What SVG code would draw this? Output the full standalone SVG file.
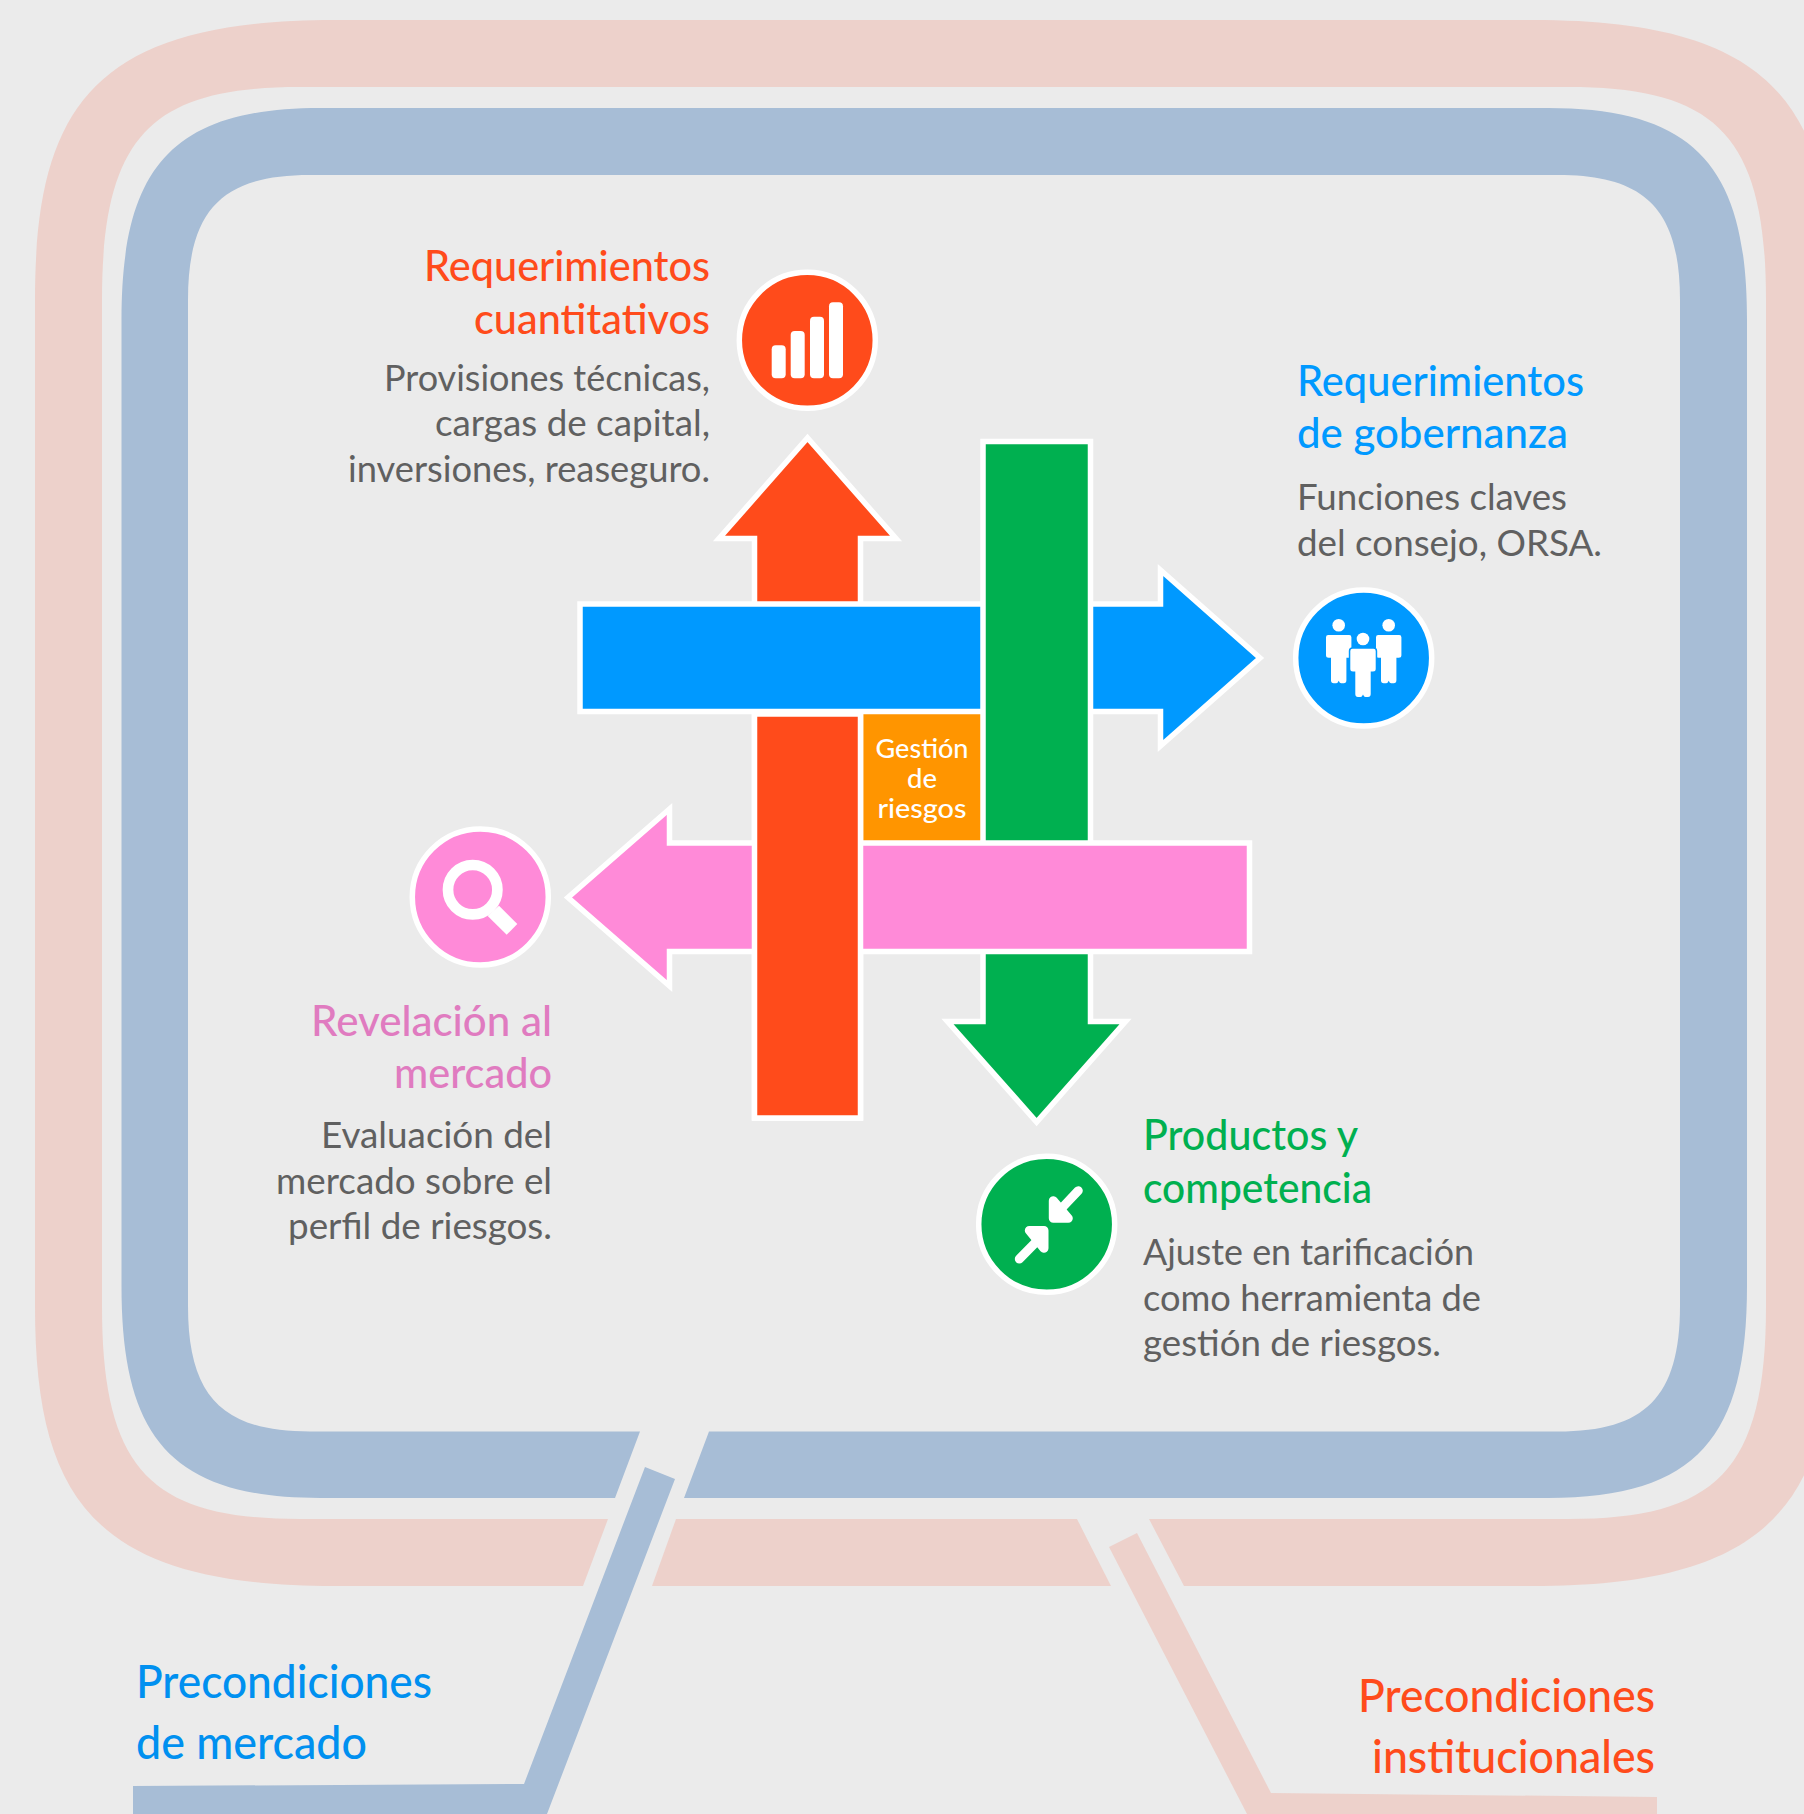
<svg xmlns="http://www.w3.org/2000/svg" width="1804" height="1814" viewBox="0 0 1804 1814">
<style>
text{font-family:"Lato","Noto Sans","Liberation Sans",sans-serif}
.t{font-size:42px;font-weight:500}
.d{font-size:36px;fill:#606060}
.p{font-size:46px;font-weight:500}
.n{font-size:26px;font-weight:500;fill:#fff;text-anchor:middle}
.e{text-anchor:end}
.a{stroke:#fff;stroke-width:5.5;stroke-miterlimit:10}
.c{stroke:#fff;stroke-width:5.5}
.w{fill:#fff}
.r{fill:#FF4B1B}.b{fill:#0099FF}.g{fill:#00B050}.k{fill:#FF8AD8}
.ring1{fill:#EDD1CB}.ring2{fill:#A7BDD6}
</style>
<defs>
<g id="person"><circle cx="0" cy="0" r="6.3"/><path d="M-10.5,9.8H10.5Q12.7,9.8 12.7,12V30Q12.7,32.5 10,32.5H7.7V55Q7.7,58 5,58H2.5Q1,58 0,55.5Q-1,58 -2.5,58H-5Q-7.7,58 -7.7,55V32.5H-10Q-12.7,32.5 -12.7,30V12Q-12.7,9.8 -10.5,9.8Z"/></g>
</defs>
<rect width="1804" height="1814" fill="#EBEBEB"/>
<g id="connectors">
<path class="ring1" d="M608,1519L300,1519C152,1519 102,1471 102,1306L102,300C102,135 152,87 300,87L1568,87C1716,87 1766,135 1766,300L1766,1306C1766,1471 1716,1519 1568,1519L1149,1519L1184,1586L1533,1586C1773,1586 1833,1501 1833,1306L1833,300C1833,105 1773,20 1533,20L335,20C95,20 35,105 35,300L35,1306C35,1501 95,1586 335,1586L583,1586Z"/>
<path class="ring1" d="M676,1519L1077,1519L1111,1586L652,1586Z"/>
<path class="ring2" d="M640,1431.5L310,1431.5C223,1431.5 188,1397 188,1306L188,300C188,209 223,175 310,175L1558,175C1645,175 1680,209 1680,300L1680,1306C1680,1397 1645,1431.5 1558,1431.5L709,1431.5L684,1498L1548,1498C1698,1498 1747,1436 1747,1286L1747,320C1747,170 1698,108 1548,108L320,108C170,108 121.5,170 121.5,320L121.5,1286C121.5,1436 170,1498 320,1498L615,1498Z"/>
<polygon class="ring2" points="645,1467 675,1479 547,1814 133,1814 133,1786 524,1784"/>
<polygon class="ring1" points="1137,1533 1109,1547 1247,1814 1657,1814 1657,1797 1271,1793"/>
</g>
<g id="center">
<rect x="860" y="711" width="124" height="132" fill="#FF9500"/>
<text x="922" y="758" class="n" textLength="93" lengthAdjust="spacingAndGlyphs">Gestión</text>
<text x="922" y="788" class="n" textLength="30" lengthAdjust="spacingAndGlyphs">de</text>
<text x="922" y="818" class="n" textLength="89" lengthAdjust="spacingAndGlyphs">riesgos</text>
</g>
<g id="arrow-red"><path class="a r" d="M754.5,1118V538.5H719L807.5,438L896,538.5H860.5V1118Z"/></g>
<g id="arrow-blue"><path class="a b" d="M580,604H1160.5V570L1260,658L1160.5,746V711.5H580Z"/></g>
<g id="arrow-green"><path class="a g" d="M983,441.5H1090.5V1021.5H1125.5L1036.6,1122L947.5,1021.5H983Z"/></g>
<g id="arrow-pink"><path class="a k" d="M1249.5,843H669.5V809L568,897.5L669.5,986V951.5H1249.5Z"/></g>
<g id="arrow-red-over"><rect class="a r" x="754.5" y="714" width="106" height="404"/></g>
<g id="node-cuant">
<circle class="c r" cx="807.3" cy="340.3" r="68"/>
<rect class="w" x="771.7" y="345.3" width="14" height="33" rx="4"/>
<rect class="w" x="790.7" y="331" width="14" height="47.3" rx="4"/>
<rect class="w" x="810" y="316.7" width="14" height="61.6" rx="4"/>
<rect class="w" x="829" y="302.3" width="14" height="76" rx="4"/>
<text class="t r e" x="710" y="281" textLength="286" lengthAdjust="spacingAndGlyphs">Requerimientos</text>
<text class="t r e" x="710" y="334" textLength="236" lengthAdjust="spacingAndGlyphs">cuantitativos</text>
<text class="d e" x="710" y="390.5" textLength="326" lengthAdjust="spacingAndGlyphs">Provisiones técnicas,</text>
<text class="d e" x="710" y="436" textLength="275" lengthAdjust="spacingAndGlyphs">cargas de capital,</text>
<text class="d e" x="710" y="482" textLength="362" lengthAdjust="spacingAndGlyphs">inversiones, reaseguro.</text>
</g>
<g id="node-gob">
<circle class="c b" cx="1363.7" cy="658" r="68"/>
<use href="#person" x="1338.7" y="625.3" class="w"/>
<use href="#person" x="1388.7" y="625.3" class="w"/>
<use href="#person" x="1363" y="639" class="w" stroke="#0099FF" stroke-width="3" paint-order="stroke"/>
<text class="t b" x="1297" y="396" textLength="287" lengthAdjust="spacingAndGlyphs">Requerimientos</text>
<text class="t b" x="1297" y="448" textLength="271" lengthAdjust="spacingAndGlyphs">de gobernanza</text>
<text class="d" x="1297" y="509.5" textLength="270" lengthAdjust="spacingAndGlyphs">Funciones claves</text>
<text class="d" x="1297" y="556" textLength="305" lengthAdjust="spacingAndGlyphs">del consejo, ORSA.</text>
</g>
<g id="node-rev">
<circle class="c k" cx="480.3" cy="897" r="68"/>
<circle cx="472.7" cy="889.7" r="24.7" fill="none" stroke="#fff" stroke-width="10.7"/>
<polygon class="w" points="499,905.7 517.3,924 506.7,934.7 487.7,916"/>
<text class="t e" x="552" y="1036" fill="#E07BC0" textLength="241" lengthAdjust="spacingAndGlyphs">Revelación al</text>
<text class="t e" x="552" y="1088" fill="#E07BC0" textLength="158" lengthAdjust="spacingAndGlyphs">mercado</text>
<text class="d e" x="552" y="1148" textLength="231" lengthAdjust="spacingAndGlyphs">Evaluación del</text>
<text class="d e" x="552" y="1194" textLength="276" lengthAdjust="spacingAndGlyphs">mercado sobre el</text>
<text class="d e" x="552" y="1239" textLength="264" lengthAdjust="spacingAndGlyphs">perfil de riesgos.</text>
</g>
<g id="node-prod">
<circle class="c g" cx="1046.7" cy="1224.3" r="68"/>
<g stroke="#fff" stroke-width="9" stroke-linecap="round" stroke-linejoin="round" fill="#fff">
<path d="M1078.3,1190.7L1060,1210"/>
<path d="M1053.3,1200.7V1218.3H1068.3Z"/>
<path d="M1019.3,1259L1038,1240"/>
<path d="M1044,1248.3V1230.5H1029.3Z"/>
</g>
<text class="t g" x="1143" y="1150" textLength="215" lengthAdjust="spacingAndGlyphs">Productos y</text>
<text class="t g" x="1143" y="1203" textLength="229" lengthAdjust="spacingAndGlyphs">competencia</text>
<text class="d" x="1143" y="1265" textLength="331" lengthAdjust="spacingAndGlyphs">Ajuste en tarificación</text>
<text class="d" x="1143" y="1311" textLength="338" lengthAdjust="spacingAndGlyphs">como herramienta de</text>
<text class="d" x="1143" y="1356" textLength="298" lengthAdjust="spacingAndGlyphs">gestión de riesgos.</text>
</g>
<g id="label-mercado">
<text class="p" x="136" y="1698" fill="#0090F0" textLength="296" lengthAdjust="spacingAndGlyphs">Precondiciones</text>
<text class="p" x="136" y="1759" fill="#0090F0" textLength="231" lengthAdjust="spacingAndGlyphs">de mercado</text>
</g>
<g id="label-inst">
<text class="p r e" x="1655" y="1712" textLength="297" lengthAdjust="spacingAndGlyphs">Precondiciones</text>
<text class="p r e" x="1655" y="1773" textLength="283" lengthAdjust="spacingAndGlyphs">institucionales</text>
</g>
</svg>
